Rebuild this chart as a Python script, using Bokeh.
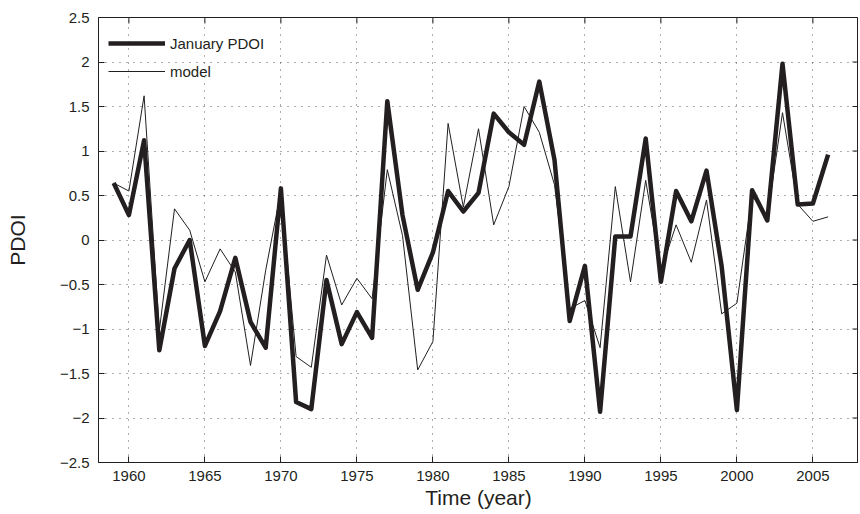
import math
from bokeh.plotting import figure
from bokeh.models import Range1d, FixedTicker, Legend, LegendItem
from bokeh.embed import file_html
from bokeh.resources import INLINE

years = list(range(1959, 2007))
pdoi = [0.64, 0.28, 1.12, -1.24, -0.32, 0.00, -1.19, -0.80, -0.20, -0.92,
        -1.21, 0.58, -1.82, -1.90, -0.45, -1.17, -0.81, -1.10, 1.56, 0.28,
        -0.56, -0.14, 0.55, 0.32, 0.53, 1.42, 1.21, 1.07, 1.78, 0.90,
        -0.91, -0.29, -1.93, 0.04, 0.04, 1.14, -0.47, 0.55, 0.21, 0.78,
        -0.30, -1.91, 0.56, 0.22, 1.98, 0.40, 0.41, 0.96]
model = [0.64, 0.55, 1.62, -1.02, 0.35, 0.11, -0.47, -0.10, -0.36, -1.41,
         -0.34, 0.55, -1.31, -1.43, -0.17, -0.73, -0.43, -0.66, 0.79, 0.05,
         -1.46, -1.14, 1.31, 0.37, 1.25, 0.17, 0.60, 1.50, 1.21, 0.62,
         -0.77, -0.68, -1.21, 0.60, -0.47, 0.67, -0.35, 0.17, -0.25, 0.45,
         -0.83, -0.71, 0.50, 0.25, 1.43, 0.40, 0.21, 0.26]

x_ticks = [1960, 1965, 1970, 1975, 1980, 1985, 1990, 1995, 2000, 2005]
y_ticks = [-2.5, -2, -1.5, -1, -0.5, 0, 0.5, 1, 1.5, 2, 2.5]
y_labels = ["\u22122.5", "\u22122", "\u22121.5", "\u22121", "\u22120.5", "0",
            "0.5", "1", "1.5", "2", "2.5"]
x_lo, x_hi = 1958, 2008
y_lo, y_hi = -2.5, 2.5

FONT = "Liberation Sans"
INK = "#231f20"

p = figure(width=858, height=512, x_range=Range1d(x_lo, x_hi),
           y_range=Range1d(y_lo, y_hi), output_backend="svg",
           toolbar_location=None, min_border_left=98, min_border_right=0,
           min_border_top=17, min_border_bottom=50)
p.background_fill_color = "white"
p.border_fill_color = "white"
p.outline_line_color = INK
p.outline_line_width = 1

p.xaxis.ticker = FixedTicker(ticks=x_ticks)
p.yaxis.ticker = FixedTicker(ticks=y_ticks)
p.yaxis.major_label_overrides = {t: l for t, l in zip(y_ticks, y_labels)}

for ax in list(p.xaxis) + list(p.yaxis):
    ax.major_tick_in = 6
    ax.major_tick_out = 0
    ax.minor_tick_line_color = None
    ax.axis_line_color = INK
    ax.major_tick_line_color = INK
    ax.major_label_text_font = FONT
    ax.major_label_text_font_size = "15px"
    ax.major_label_text_color = INK
    ax.axis_label_text_font = FONT
    ax.axis_label_text_font_size = "21px"
    ax.axis_label_text_font_style = "normal"
    ax.axis_label_text_color = INK

p.xaxis.axis_label = "Time (year)"
p.xaxis.axis_label_standoff = 2
p.xaxis.major_label_standoff = 8
p.yaxis.axis_label = "PDOI"
p.yaxis.axis_label_standoff = 28
p.yaxis.major_label_standoff = 9

# inward ticks on the top and right frame edges
p.ray(x=x_ticks, y=[y_hi] * len(x_ticks), length=6, length_units="screen",
      angle=-math.pi / 2, line_color=INK, line_width=1)
p.ray(x=[x_hi] * len(y_ticks), y=y_ticks, length=6, length_units="screen",
      angle=math.pi, line_color=INK, line_width=1)

p.xgrid.ticker = FixedTicker(ticks=x_ticks)
p.ygrid.ticker = FixedTicker(ticks=y_ticks)
for g in (p.xgrid, p.ygrid):
    g.grid_line_color = "#333333"
    g.grid_line_dash = "1 6"
    g.grid_line_width = 1
    g.grid_line_alpha = 0.8

r1 = p.line(years, pdoi, line_color=INK, line_width=4.5, line_join="round")
r2 = p.line(years, model, line_color=INK, line_width=1)

legend = Legend(items=[LegendItem(label="January PDOI", renderers=[r1]),
                       LegendItem(label="model", renderers=[r2])],
                location=(8, 379))
legend.glyph_width = 57
legend.glyph_height = 20
legend.label_standoff = 5
legend.spacing = 8
legend.padding = 2
legend.margin = 0
legend.background_fill_alpha = 0
legend.border_line_alpha = 0
legend.label_text_font = FONT
legend.label_text_font_size = "15px"
legend.label_text_color = INK
p.add_layout(legend)

open("out.html", "w").write(file_html(p, INLINE))
